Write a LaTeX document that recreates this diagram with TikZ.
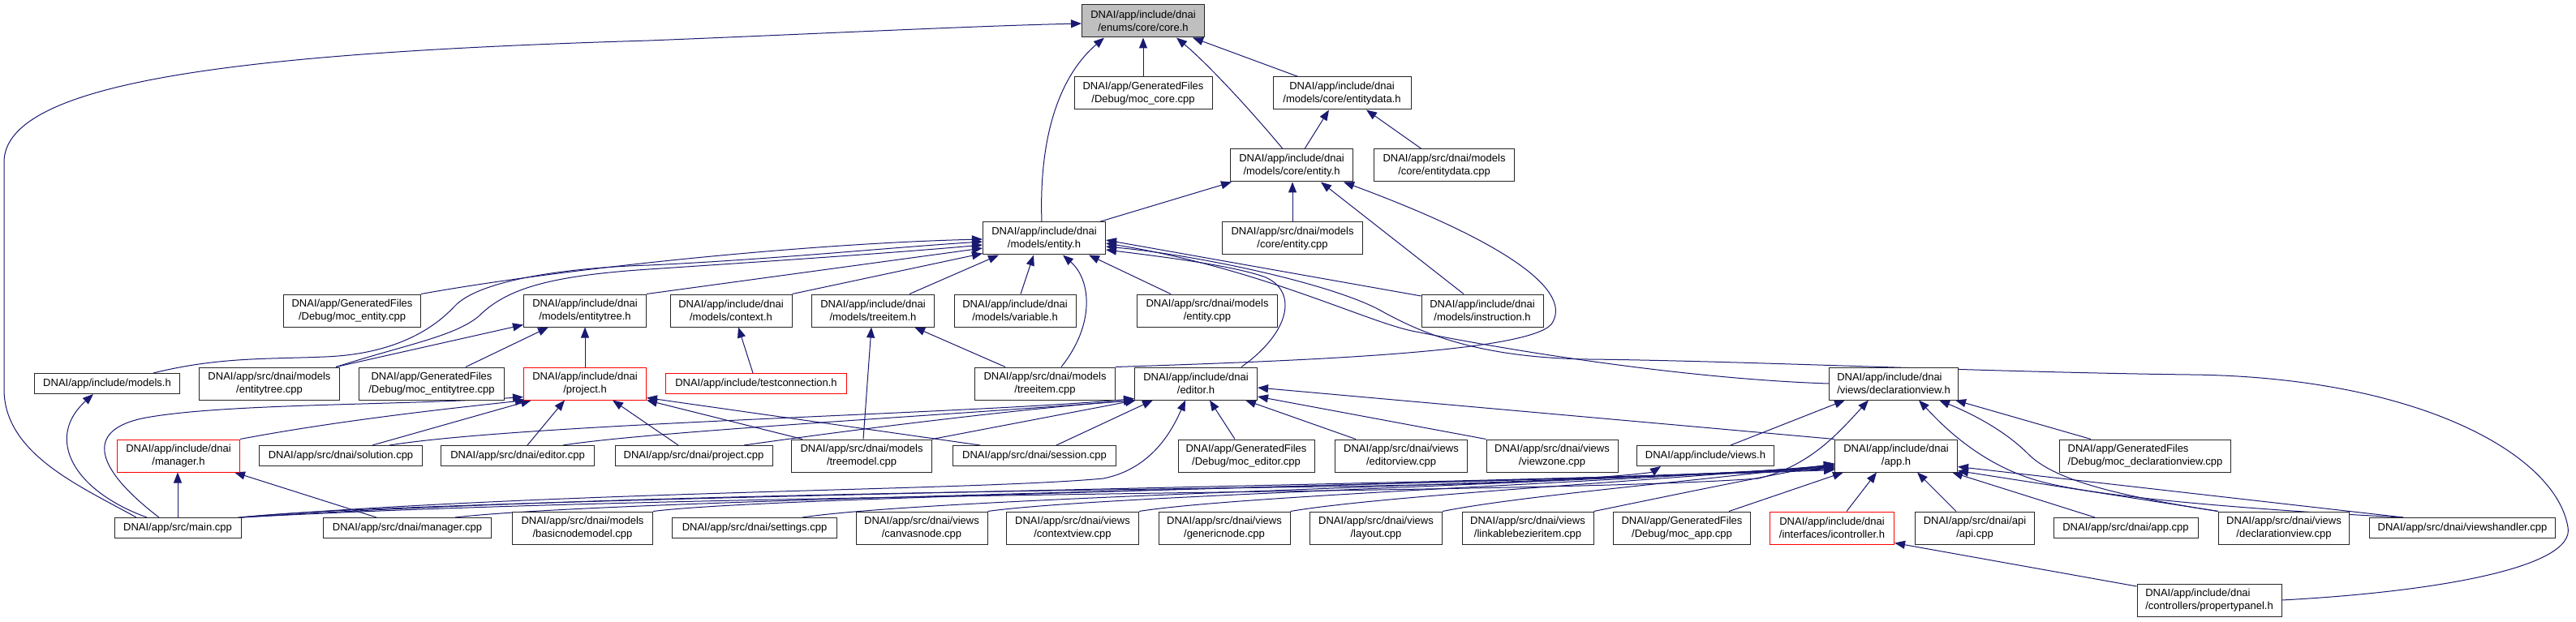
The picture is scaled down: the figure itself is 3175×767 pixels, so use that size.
\documentclass[tikz,border=0pt]{standalone}
\usepackage{fontspec}
\setmainfont{Liberation Sans}
\usetikzlibrary{arrows.meta,backgrounds}
\definecolor{edgeblue}{HTML}{191970}
\definecolor{coregray}{HTML}{BFBFBF}
\newcommand\nodefont{\fontsize{13}{16}\selectfont}
\tikzset{
  fbox/.style={draw=black!85, line width=1pt, fill=white, inner sep=0pt, minimum height=40pt, align=center, font=\nodefont},
  fbox1/.style={fbox, minimum height=25pt},
  redb/.style={draw=red},
  inc/.style={draw=edgeblue, line width=1pt, -{Triangle[length=13pt,width=10pt]}},
}
\begin{document}
\begin{tikzpicture}[x=1pt,y=-1pt]
\useasboundingbox (0,0) rectangle (3175,767);
% row 0-3
\node[fbox, fill=coregray, minimum width=151pt] (core) at (1409,26) {DNAI/app/include/dnai\\/enums/core/core.h};
\node[fbox, minimum width=170pt] (moccore) at (1409,115) {DNAI/app/GeneratedFiles\\/Debug/moc\_core.cpp};
\node[fbox, minimum width=170pt] (entdatah) at (1654,115) {DNAI/app/include/dnai\\/models/core/entitydata.h};
\node[fbox, minimum width=151pt] (coreenth) at (1592,204) {DNAI/app/include/dnai\\/models/core/entity.h};
\node[fbox, minimum width=173pt] (entdatacpp) at (1780,204) {DNAI/app/src/dnai/models\\/core/entitydata.cpp};
\node[fbox, minimum width=151pt] (enth) at (1287,294) {DNAI/app/include/dnai\\/models/entity.h};
\node[fbox, minimum width=173pt] (coreentcpp) at (1593,294) {DNAI/app/src/dnai/models\\/core/entity.cpp};
% row 4
\node[fbox, minimum width=169pt] (mocent) at (434,383) {DNAI/app/GeneratedFiles\\/Debug/moc\_entity.cpp};
\node[fbox, minimum width=151pt] (enttreeh) at (721,383) {DNAI/app/include/dnai\\/models/entitytree.h};
\node[fbox, minimum width=150pt] (contexth) at (901,383) {DNAI/app/include/dnai\\/models/context.h};
\node[fbox, minimum width=151pt] (treeitemh) at (1076,383) {DNAI/app/include/dnai\\/models/treeitem.h};
\node[fbox, minimum width=150pt] (variableh) at (1251,383) {DNAI/app/include/dnai\\/models/variable.h};
\node[fbox, minimum width=173pt] (entcpp) at (1488,383) {DNAI/app/src/dnai/models\\/entity.cpp};
\node[fbox, minimum width=150pt] (instrh) at (1827,383) {DNAI/app/include/dnai\\/models/instruction.h};
% row 5
\node[fbox1, minimum width=179pt] (modelsh) at (132,473) {DNAI/app/include/models.h};
\node[fbox, minimum width=173pt] (enttreecpp) at (332,473) {DNAI/app/src/dnai/models\\/entitytree.cpp};
\node[fbox, minimum width=179pt] (mocenttree) at (532,473) {DNAI/app/GeneratedFiles\\/Debug/moc\_entitytree.cpp};
\node[fbox, redb, minimum width=151pt] (projecth) at (721,473) {DNAI/app/include/dnai\\/project.h};
\node[fbox1, redb, minimum width=223pt] (testconn) at (932,473) {DNAI/app/include/testconnection.h};
\node[fbox, minimum width=173pt] (treeitemcpp) at (1288,473) {DNAI/app/src/dnai/models\\/treeitem.cpp};
\node[fbox, minimum width=151pt] (editorh) at (1474,473) {DNAI/app/include/dnai\\/editor.h};
\node[fbox, align=left, minimum width=159pt] (declh) at (2334,473) {DNAI/app/include/dnai\\/views/declarationview.h};
% row 6
\node[fbox, redb, minimum width=151pt] (managerh) at (220,562) {DNAI/app/include/dnai\\/manager.h};
\node[fbox1, minimum width=201pt] (solution) at (420,562) {DNAI/app/src/dnai/solution.cpp};
\node[fbox1, minimum width=189pt] (editorcpp) at (638,562) {DNAI/app/src/dnai/editor.cpp};
\node[fbox1, minimum width=194pt] (projectcpp) at (855,562) {DNAI/app/src/dnai/project.cpp};
\node[fbox, minimum width=173pt] (treemodel) at (1062,562) {DNAI/app/src/dnai/models\\/treemodel.cpp};
\node[fbox1, minimum width=201pt] (session) at (1275,562) {DNAI/app/src/dnai/session.cpp};
\node[fbox, minimum width=168pt] (moceditor) at (1536,562) {DNAI/app/GeneratedFiles\\/Debug/moc\_editor.cpp};
\node[fbox, minimum width=163pt] (editorview) at (1727,562) {DNAI/app/src/dnai/views\\/editorview.cpp};
\node[fbox, minimum width=162pt] (viewzone) at (1913,562) {DNAI/app/src/dnai/views\\/viewzone.cpp};
\node[fbox1, minimum width=169pt] (viewsh) at (2102,562) {DNAI/app/include/views.h};
\node[fbox, minimum width=151pt] (apph) at (2337,562) {DNAI/app/include/dnai\\/app.h};
\node[fbox, align=left, minimum width=211pt] (mocdecl) at (2644,562) {DNAI/app/GeneratedFiles\\/Debug/moc\_declarationview.cpp};
% row 7
\node[fbox1, minimum width=156pt] (maincpp) at (219,651) {DNAI/app/src/main.cpp};
\node[fbox1, minimum width=207pt] (managercpp) at (502,651) {DNAI/app/src/dnai/manager.cpp};
\node[fbox, minimum width=173pt] (basicnode) at (718,651) {DNAI/app/src/dnai/models\\/basicnodemodel.cpp};
\node[fbox1, minimum width=203pt] (settings) at (930,651) {DNAI/app/src/dnai/settings.cpp};
\node[fbox, minimum width=162pt] (canvasnode) at (1136,651) {DNAI/app/src/dnai/views\\/canvasnode.cpp};
\node[fbox, minimum width=163pt] (contextview) at (1322,651) {DNAI/app/src/dnai/views\\/contextview.cpp};
\node[fbox, minimum width=162pt] (genericnode) at (1509,651) {DNAI/app/src/dnai/views\\/genericnode.cpp};
\node[fbox, minimum width=163pt] (layout) at (1696,651) {DNAI/app/src/dnai/views\\/layout.cpp};
\node[fbox, minimum width=162pt] (linkable) at (1883,651) {DNAI/app/src/dnai/views\\/linkablebezieritem.cpp};
\node[fbox, minimum width=169pt] (mocapp) at (2073,651) {DNAI/app/GeneratedFiles\\/Debug/moc\_app.cpp};
\node[fbox, redb, minimum width=153pt] (icontroller) at (2258,651) {DNAI/app/include/dnai\\/interfaces/icontroller.h};
\node[fbox, minimum width=147pt] (apicpp) at (2434,651) {DNAI/app/src/dnai/api\\/api.cpp};
\node[fbox1, minimum width=178pt] (appcpp) at (2620,651) {DNAI/app/src/dnai/app.cpp};
\node[fbox, minimum width=161pt] (declcpp) at (2815,651) {DNAI/app/src/dnai/views\\/declarationview.cpp};
\node[fbox1, minimum width=229pt] (viewshandler) at (3035,651) {DNAI/app/src/dnai/viewshandler.cpp};
% row 8
\node[fbox, align=left, minimum width=178pt] (proppanel) at (2723,740) {DNAI/app/include/dnai\\/controllers/propertypanel.h};

\begin{scope}[on background layer]
\fill[white] (0,0) rectangle (3175,767);
% into core.h
\draw[inc] ([xshift=-51pt]maincpp.north) .. controls (100,600) and (5,560) .. (5,480) -- (5,200) .. controls (5,100) and (300,65) .. (800,50) .. controls (1000,42) and (1200,32) .. ([yshift=-3pt]core.west);
\draw[inc] ([xshift=-3pt]enth.north) .. controls (1280,160) and (1310,90) .. ([xshift=28pt]core.south west);
\draw[inc] (moccore) -- (core);
\draw[inc] ([xshift=-11pt]coreenth.north) .. controls (1545,140) and (1490,80) .. ([xshift=-35pt]core.south east);
\draw[inc] ([xshift=-54pt]entdatah.north) -- ([xshift=-15pt]core.south east);
% entitydata.h
\draw[inc] ([xshift=16pt]coreenth.north) -- ([xshift=-16pt]entdatah.south);
\draw[inc] ([xshift=-28pt]entdatacpp.north) -- ([xshift=30pt]entdatah.south);
% core/entity.h
\draw[inc] ([xshift=-8pt]enth.north east) -- ([xshift=2pt]coreenth.south west);
\draw[inc] (coreentcpp.north) -- (coreentcpp.north |- coreenth.south);
\draw[inc] ([xshift=-23pt]instrh.north) -- ([xshift=36pt]coreenth.south);
\draw[inc] (treeitemcpp.north east) .. controls (1600,445) and (1880,435) .. (1912,400) .. controls (1940,360) and (1860,300) .. ([xshift=-12pt]coreenth.south east);
% models/entity.h
\draw[inc] (mocent.north east) .. controls (700,330) and (1000,300) .. ([yshift=-1pt]enth.west);
\draw[inc] ([xshift=57pt]modelsh.north) .. controls (270,440) and (330,443) .. (400,440) .. controls (480,437) and (530,410) .. (560,378) .. controls (590,345) and (700,330) .. (800,327) .. controls (950,320) and (1100,305) .. ([yshift=-4pt]enth.west);
\draw[inc] ([xshift=-5pt]enttreecpp.north east) .. controls (500,425) and (560,415) .. (590,390) .. controls (625,355) and (680,340) .. (800,332) .. controls (950,322) and (1100,312) .. ([yshift=-8pt]enth.west);
\draw[inc] (enttreeh.north east) -- ([yshift=-12pt]enth.west);
\draw[inc] (contexth.north east) -- ([yshift=2pt]enth.south west);
\draw[inc] ([xshift=45pt]treeitemh.north) -- ([xshift=20pt]enth.south west);
\draw[inc] ([xshift=7pt]variableh.north) -- ([xshift=-13pt]enth.south);
\draw[inc] ([xshift=20pt]treeitemcpp.north) .. controls (1350,400) and (1345,345) .. ([xshift=23pt]enth.south);
\draw[inc] ([xshift=-45pt]entcpp.north) -- ([xshift=-21pt]enth.south east);
\draw[inc] ([xshift=56pt]editorh.north) .. controls (1590,410) and (1600,360) .. (1560,342) .. controls (1520,327) and (1420,315) .. ([yshift=-14pt]enth.east);
\draw[inc] ([yshift=18pt]instrh.west) -- ([yshift=-2pt]enth.east);
\draw[inc] (declh.west) .. controls (2100,468) and (1900,440) .. (1740,408) .. controls (1680,395) and (1550,330) .. ([yshift=-6pt]enth.east);
\draw[inc] (proppanel.east) .. controls (3000,730) and (3175,700) .. (3165,650) .. controls (3150,560) and (2980,465) .. (2700,462) .. controls (2450,459) and (2150,445) .. (1957,443) .. controls (1820,441) and (1750,410) .. (1700,382) .. controls (1640,350) and (1480,315) .. ([yshift=-10pt]enth.east);
% entitytree.h
\draw[inc] ([xshift=-5pt]enttreecpp.north east) -- ([yshift=3pt]enttreeh.south west);
\draw[inc] ([xshift=42pt]mocenttree.north) -- ([xshift=31pt]enttreeh.south west);
\draw[inc] (projecth) -- (enttreeh);
% context.h
\draw[inc] ([xshift=-4pt]testconn.north) -- ([xshift=9pt]contexth.south);
% treeitem.h
\draw[inc] ([xshift=-49pt]treeitemcpp.north) -- ([xshift=51pt]treeitemh.south);
\draw[inc] ([xshift=2pt]treemodel.north) -- ([xshift=-2pt]treeitemh.south);
% project.h
\draw[inc] ([xshift=-23pt]maincpp.north) .. controls (120,580) and (100,530) .. (180,515) .. controls (280,497) and (500,500) .. ([yshift=4pt]projecth.south west);
\draw[inc] (managerh.north east) .. controls (420,518) and (560,503) .. ([xshift=3pt]projecth.south west);
\draw[inc] ([xshift=39pt]solution.north) -- ([xshift=10pt]projecth.south west);
\draw[inc] ([xshift=12pt]editorcpp.north) -- ([xshift=-25pt]projecth.south);
\draw[inc] ([xshift=-19pt]projectcpp.north) -- ([xshift=34pt]projecth.south);
\draw[inc] ([xshift=-73pt]treemodel.north) -- (projecth.south east);
\draw[inc] ([xshift=-67pt]session.north) -- ([yshift=3pt]projecth.south east);
% editor.h
\draw[inc] ([xshift=60pt]solution.north) .. controls (650,522) and (1200,510) .. ([yshift=2pt]editorh.south west);
\draw[inc] ([xshift=56pt]editorcpp.north) .. controls (800,532) and (1200,510) .. ([xshift=1pt]editorh.south west);
\draw[inc] ([xshift=62pt]projectcpp.north) .. controls (1050,530) and (1250,505) .. (editorh.south west);
\draw[inc] (treemodel.north east) -- ([xshift=2pt]editorh.south west);
\draw[inc] ([xshift=27pt]session.north) -- ([xshift=23pt]editorh.south west);
\draw[inc] ([xshift=-4pt]maincpp.north east) .. controls (700,605) and (1200,605) .. (1360,590) .. controls (1420,578) and (1445,530) .. ([xshift=-13pt]editorh.south);
\draw[inc] ([xshift=-14pt]moceditor.north) -- ([xshift=17pt]editorh.south);
\draw[inc] ([xshift=-56pt]editorview.north) -- ([xshift=-15pt]editorh.south east);
\draw[inc] (viewzone.north west) -- ([yshift=-16pt]editorh.east);
\draw[inc] (apph.north west) -- ([yshift=-5pt]editorh.east);
% manager.h
\draw[inc] (maincpp.north) -- (maincpp.north |- managerh.south);
\draw[inc] ([xshift=-38pt]managercpp.north) -- ([xshift=-7pt]managerh.south east);
% models.h
\draw[inc] ([xshift=-38pt]maincpp.north) .. controls (90,605) and (55,540) .. ([xshift=-17pt]modelsh.south);
% views.h
\draw[inc] (maincpp.north east) .. controls (900,600) and (1700,605) .. (1900,593) .. controls (1990,588) and (2035,583) .. ([xshift=-55pt]viewsh.south);
% declarationview.h
\draw[inc] ([xshift=31pt]viewsh.north) -- ([xshift=20pt]declh.south west);
\draw[inc] (maincpp.north east) .. controls (900,605) and (1900,610) .. (2167,590) .. controls (2230,575) and (2265,535) .. ([xshift=-31pt]declh.south);
\draw[inc] ([xshift=-73pt]viewshandler.north) .. controls (2800,630) and (2600,615) .. (2520,595) .. controls (2440,575) and (2390,520) .. ([xshift=31pt]declh.south);
\draw[inc] (declcpp.north west) .. controls (2600,610) and (2530,590) .. (2500,560) .. controls (2470,530) and (2430,510) .. ([xshift=56pt]declh.south);
\draw[inc] ([xshift=-67pt]mocdecl.north) -- ([xshift=-4pt]declh.south east);
% app.h
\draw[inc] (maincpp.north east) .. controls (500,615) and (1700,600) .. ([yshift=3pt]apph.south west);
\draw[inc] ([xshift=59pt]managercpp.north) .. controls (760,615) and (1750,600) .. ([yshift=4pt]apph.south west);
\draw[inc] (basicnode.north east) .. controls (950,612) and (1800,598) .. ([yshift=5pt]apph.south west);
\draw[inc] ([xshift=59pt]settings.north) .. controls (1150,614) and (1850,598) .. ([yshift=6pt]apph.south west);
\draw[inc] (canvasnode.north east) .. controls (1350,612) and (1900,597) .. ([yshift=7pt]apph.south west);
\draw[inc] (contextview.north east) .. controls (1520,612) and (1950,596) .. ([yshift=8pt]apph.south west);
\draw[inc] (genericnode.north east) .. controls (1700,612) and (2000,595) .. ([yshift=9pt]apph.south west);
\draw[inc] (layout.north east) .. controls (1870,612) and (2080,594) .. ([yshift=10pt]apph.south west);
\draw[inc] (linkable.north east) .. controls (2040,615) and (2150,592) .. ([yshift=11pt]apph.south west);
\draw[inc] ([xshift=58pt]mocapp.north) -- ([xshift=11pt]apph.south west);
\draw[inc] ([xshift=18pt]icontroller.north) -- ([xshift=-24pt]apph.south);
\draw[inc] ([xshift=-23pt]apicpp.north) -- ([xshift=26pt]apph.south);
\draw[inc] ([xshift=-38pt]appcpp.north) -- ([xshift=-7pt]apph.south east);
\draw[inc] (declcpp.north west) -- ([yshift=2pt]apph.south east);
\draw[inc] ([xshift=-73pt]viewshandler.north) -- ([yshift=7pt]apph.south east);
% icontroller.h
\draw[inc] ([yshift=17pt]proppanel.west) -- ([yshift=2pt]icontroller.south east);
\end{scope}
\end{tikzpicture}
\end{document}
